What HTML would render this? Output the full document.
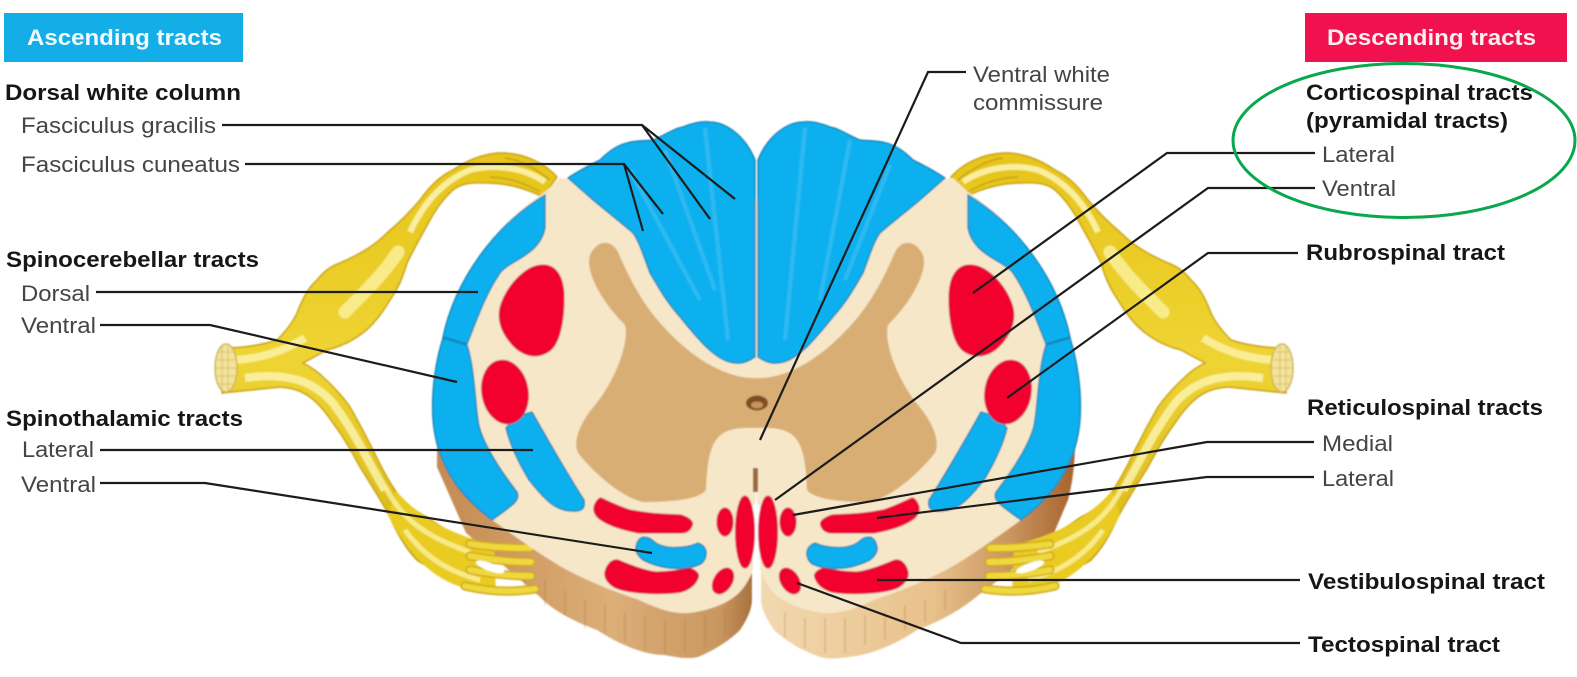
<!DOCTYPE html>
<html><head><meta charset="utf-8"><style>
html,body{margin:0;padding:0;background:#fff}
svg{display:block}
text{font-family:"Liberation Sans",Arial,sans-serif;font-size:22px;fill:#444}
.b{font-weight:bold;fill:#161616}
.w{font-weight:bold;fill:#f2fbff}
.l{fill:none;stroke:#1c1c1c;stroke-width:2.2}
</style></head><body>
<svg width="1577" height="677" viewBox="0 0 1577 677" xmlns="http://www.w3.org/2000/svg">
<defs>
<filter id="s" x="-5%" y="-5%" width="110%" height="110%"><feGaussianBlur stdDeviation="0.7"/></filter>
<filter id="t" x="-5%" y="-20%" width="110%" height="140%"><feGaussianBlur stdDeviation="0.35"/></filter>
<linearGradient id="brL" x1="0" x2="1" y1="0" y2="0"><stop offset="0" stop-color="#c48a52"/><stop offset=".55" stop-color="#dcae78"/><stop offset=".9" stop-color="#c99660"/><stop offset="1" stop-color="#a9713c"/></linearGradient>
<linearGradient id="brR" x1="0" x2="1" y1="0" y2="0"><stop offset="0" stop-color="#f2d9b0"/><stop offset=".55" stop-color="#e8c08a"/><stop offset=".8" stop-color="#c9935c"/><stop offset="1" stop-color="#a5622c"/></linearGradient>
<linearGradient id="yel" x1="0" x2="0" y1="0" y2="1"><stop offset="0" stop-color="#e6c41a"/><stop offset=".5" stop-color="#eed433"/><stop offset="1" stop-color="#d9b414"/></linearGradient>
<g id="nerve">
 <path d="M222,348 C245,348 262,345 277,340 C287,330 293,322 297,313 C303,298 308,288 317,280 C325,270 332,266 340,263 C358,255 373,247 387,233 C400,222 410,212 420,200 C430,186 440,176 453,170 C470,158 490,152 505,153 C525,154 545,163 557,177 L543,197 C525,188 505,183 487,183 C470,182 460,184 453,190 C443,199 436,209 430,220 C420,238 413,250 407,263 C402,280 397,290 390,300 C378,320 368,330 357,337 C345,345 335,348 327,350 L303,363 C313,368 319,373 323,377 C335,388 343,397 350,407 C358,421 366,436 373,450 C381,467 389,482 397,493 C407,505 416,512 427,517 C437,524 447,531 460,537 L468,565 C445,570 430,570 417,560 C405,548 397,533 390,517 C381,500 370,483 360,467 C351,450 342,435 333,423 C325,411 318,403 310,397 C300,390 292,388 280,387 L222,393 Z" fill="url(#yel)" stroke="#c9a214" stroke-width="1.5"/>
 <path d="M345,312 C365,292 385,272 398,252" fill="none" stroke="#fbf3a0" stroke-width="13" opacity=".8" stroke-linecap="round"/>
 <path d="M410,232 C425,200 445,180 470,170 C495,163 525,168 545,182" fill="none" stroke="#fdf6b4" stroke-width="6" opacity=".85"/>
 <path d="M505,158 C520,160 535,168 550,180 M490,177 C510,178 525,183 540,192" fill="none" stroke="#c9a214" stroke-width="1.5"/>
 <path d="M235,360 C265,358 285,350 305,338" fill="none" stroke="#fdf6b4" stroke-width="8" opacity=".75"/>
 <path d="M245,378 C285,372 312,380 332,402 C355,432 368,462 385,490" fill="none" stroke="#fdf6b4" stroke-width="8" opacity=".8"/>
 <ellipse cx="226" cy="368" rx="11" ry="24" fill="#f3e39c" stroke="#d2b652" stroke-width="1.5"/>
 <path d="M219,352 h13 M217,360 h18 M216,368 h20 M217,376 h18 M219,384 h13 M222,346 v44 M228,346 v44" stroke="#dcc674" stroke-width="1.2" fill="none"/>
 <path d="M396,491 C420,518 450,534 494,545 L496,591 C455,593 418,574 388,515 Z" fill="#e9cb24"/>
 <path d="M386,488 C400,515 420,535 470,552 M405,530 C425,558 450,572 480,580" fill="none" stroke="#fbf2a0" stroke-width="5" opacity=".8"/>
</g>
<g id="fan">
 <g fill="none" stroke-linecap="round">
 <path d="M470,544 C498,548 515,548 530,548 M470,556 C498,561 515,562 531,562 M470,570 C498,575 515,576 531,576 M465,586 C490,592 515,592 535,589" stroke="#cfa916" stroke-width="9"/>
 <path d="M470,544 C498,548 515,548 530,548 M470,556 C498,561 515,562 531,562 M470,570 C498,575 515,576 531,576 M465,586 C490,592 515,592 535,589" stroke="#efd83e" stroke-width="6"/>
 </g>
 <ellipse cx="490" cy="567" rx="15" ry="4" fill="#fff" transform="rotate(20 490 567)"/>
</g>
<g id="blue" fill="#0eb0ee" stroke="#147fb2" stroke-width="1.3">
 <path d="M568,178 C580,170 590,165 600,160 C610,150 618,145 627,143 C637,140 645,141 653,140 C665,135 675,128 683,127 C695,122 703,121 710,122 C725,122 745,135 755,160 L755,357 C748,362 742,364 735,363 C715,362 695,335 680,317 C665,300 657,285 650,273 C643,255 640,243 633,233 C620,222 605,210 593,200 Z"/>
 <path d="M545,195 C495,225 455,280 443,337 L467,344 C476,322 485,295 500,273 C510,260 540,255 545,228 Z"/>
 <path d="M443,338 L467,345 C474,365 475,400 478,420 C480,440 500,470 517,492 C520,500 516,503 492,520 C465,500 437,470 433,420 C431,390 436,360 443,338 Z"/>
 <path d="M532,412 C545,435 565,470 584,500 C586,510 580,512 570,511 C555,510 545,500 529,480 C520,465 510,445 506,428 C512,420 522,414 532,412 Z"/>
 <path d="M643,537 C650,537 652,540 656,543 C665,549 685,549 698,543 C704,545 707,550 706,555 C705,562 700,565 698,565 C690,569 678,569 668,568 C655,566 645,561 643,560 C638,556 635,552 636,547 C637,541 640,538 643,537 Z"/>
</g>
<g id="red" fill="#f2022f" stroke="#c2234a" stroke-width="1">
 <path d="M543,265 C558,265 564,280 564,298 C564,320 560,345 548,352 C535,360 520,355 510,342 C500,330 498,318 500,308 C505,288 525,265 543,265 Z"/>
 <ellipse cx="505" cy="392" rx="23" ry="32" transform="rotate(-10 505 392)"/>
 <path d="M601,498 C612,503 620,507 630,510 C650,514 665,514 681,515 C690,518 694,522 692,526 C690,531 686,533 681,533 L639,533 C622,530 610,526 601,520 C595,516 592,510 595,504 C597,500 599,498 601,498 Z"/>
 <path d="M618,560 C632,566 645,571 656,572 C668,572 680,570 689,568 C696,570 700,574 698,578 C695,586 688,590 681,592 C668,594 655,594 643,593 C630,592 620,590 614,587 C608,583 604,578 605,572 C607,564 612,559 618,560 Z"/>
 <ellipse cx="725" cy="522" rx="8" ry="14"/>
 <ellipse cx="745" cy="532" rx="9.5" ry="36"/>
 <ellipse cx="723" cy="581" rx="9" ry="14" transform="rotate(32 723 581)"/>
</g>
<g id="cream">
 <path d="M560,178 L545,192 C495,225 455,280 445,337 C435,390 438,445 452,480 L492,520 C520,540 545,558 567,570 C590,582 615,592 639,600 C660,610 675,614 689,613 C715,610 735,600 744,587 C750,578 753,572 753,567 L757,470 L757,200 Z" fill="#f6e7c9"/>
 <path d="M593,250 C600,240 612,240 618,252 C628,275 640,300 660,323 C680,345 700,362 725,372 C740,378 750,378 757,378 L757,428 C735,427 723,430 716,440 C708,452 707,470 706,490 C700,498 680,502 643,502 C625,498 600,480 578,453 C572,440 582,420 595,405 C612,385 630,345 625,325 C610,310 595,290 590,270 C588,260 589,255 593,250 Z" fill="#d9ae75"/>
</g>
</defs>
<g filter="url(#s)">
<path d="M437,420 L437,467 L466,533 L540,597 C555,612 575,622 597,630 C620,645 645,655 664,655 C680,658 690,659 698,657 C715,650 730,640 740,630 C748,618 752,608 752,600 L752,500 Z" fill="url(#brL)"/>
<path d="M1076,420 L1075,450 C1074,470 1072,485 1068,500 L1051,540 L976,597 C958,612 938,622 917,630 C895,645 870,655 849,657 C835,659 828,659 820,657 C800,650 785,640 774,630 C766,618 761,608 761,600 L761,500 Z" fill="url(#brR)"/>
<path d="M525,570v22M545,580v25M565,590v25M585,600v28M605,605v28M625,612v30M645,615v35M665,618v35M685,618v35M705,615v33M725,610v25M785,612v25M805,618v30M825,618v35M845,618v35M865,615v30M885,612v28M905,605v26M925,600v22M945,590v20" stroke="#a8753f" stroke-width="1.5" opacity=".3" fill="none"/>
<use href="#nerve"/>
<use href="#nerve" transform="translate(1508,0) scale(-1,1)"/>
<use href="#fan"/>
<use href="#fan" transform="translate(1520,0) scale(-1,1)"/>
<use href="#cream"/>
<use href="#cream" transform="translate(1513,0) scale(-1,1)"/>
<rect x="753" y="505" width="7" height="155" fill="#fff"/>
<rect x="753" y="468" width="5" height="24" fill="#9b6a3a"/>
<ellipse cx="757" cy="403" rx="11" ry="7.5" fill="#7f4d24"/>
<ellipse cx="757" cy="405" rx="6" ry="3.5" fill="#c7935a"/>
<use href="#blue"/>
<use href="#blue" transform="translate(1513,0) scale(-1,1)"/>
<path d="M630,170 L700,300M665,150 L715,290M705,128 L728,340M805,128 L785,340M850,140 L820,300M890,165 L845,280" stroke="#58c6f3" stroke-width="4" fill="none" opacity=".45"/>
<use href="#red"/>
<use href="#red" transform="translate(1513,0) scale(-1,1)"/>
</g>

<g filter="url(#t)">
<path class="l" d="M222,125H642L735,199M642,125L710,219"/>
<path class="l" d="M245,164H624L663,214M624,164L643,231"/>
<path class="l" d="M96,292H478"/>
<path class="l" d="M100,325H210L457,382"/>
<path class="l" d="M100,450H533"/>
<path class="l" d="M100,483H205L652,553"/>
<path class="l" d="M966,72H928L760,440"/>
<path class="l" d="M1315,153H1167L973,293"/>
<path class="l" d="M1315,188H1208L775,500"/>
<path class="l" d="M1298,253H1208L1007,398"/>
<path class="l" d="M1314,442H1207L793,515"/>
<path class="l" d="M1314,477H1207L877,518"/>
<path class="l" d="M1300,580H877"/>
<path class="l" d="M1300,643H961L797,583"/>
</g>

<rect x="4" y="13" width="239" height="49" fill="#13aee8"/>
<rect x="1305" y="13" width="262" height="49" fill="#f0114e"/>
<g filter="url(#t)">
<text x="27" y="45" class="w" textLength="195" lengthAdjust="spacingAndGlyphs">Ascending tracts</text>
<text x="1327" y="45" class="w" style="fill:#ffeef2" textLength="209" lengthAdjust="spacingAndGlyphs">Descending tracts</text>
<text x="5" y="100" class="b" textLength="236" lengthAdjust="spacingAndGlyphs">Dorsal white column</text>
<text x="21" y="133" textLength="195" lengthAdjust="spacingAndGlyphs">Fasciculus gracilis</text>
<text x="21" y="172" textLength="219" lengthAdjust="spacingAndGlyphs">Fasciculus cuneatus</text>
<text x="6" y="267" class="b" textLength="253" lengthAdjust="spacingAndGlyphs">Spinocerebellar tracts</text>
<text x="21" y="301" textLength="69" lengthAdjust="spacingAndGlyphs">Dorsal</text>
<text x="21" y="333" textLength="75" lengthAdjust="spacingAndGlyphs">Ventral</text>
<text x="6" y="426" class="b" textLength="237" lengthAdjust="spacingAndGlyphs">Spinothalamic tracts</text>
<text x="22" y="457" textLength="72" lengthAdjust="spacingAndGlyphs">Lateral</text>
<text x="21" y="492" textLength="75" lengthAdjust="spacingAndGlyphs">Ventral</text>
<text x="973" y="82" textLength="137" lengthAdjust="spacingAndGlyphs">Ventral white</text>
<text x="973" y="110" textLength="130" lengthAdjust="spacingAndGlyphs">commissure</text>
<text x="1306" y="100" class="b" textLength="227" lengthAdjust="spacingAndGlyphs">Corticospinal tracts</text>
<text x="1306" y="128" class="b" textLength="202" lengthAdjust="spacingAndGlyphs">(pyramidal tracts)</text>
<text x="1322" y="162" textLength="73" lengthAdjust="spacingAndGlyphs">Lateral</text>
<text x="1322" y="196" textLength="74" lengthAdjust="spacingAndGlyphs">Ventral</text>
<text x="1306" y="260" class="b" textLength="199" lengthAdjust="spacingAndGlyphs">Rubrospinal tract</text>
<text x="1307" y="415" class="b" textLength="236" lengthAdjust="spacingAndGlyphs">Reticulospinal tracts</text>
<text x="1322" y="451" textLength="71" lengthAdjust="spacingAndGlyphs">Medial</text>
<text x="1322" y="486" textLength="72" lengthAdjust="spacingAndGlyphs">Lateral</text>
<text x="1308" y="589" class="b" textLength="237" lengthAdjust="spacingAndGlyphs">Vestibulospinal tract</text>
<text x="1308" y="652" class="b" textLength="192" lengthAdjust="spacingAndGlyphs">Tectospinal tract</text>
</g>
<ellipse cx="1404" cy="140.5" rx="171" ry="77" fill="none" stroke="#0aa84c" stroke-width="3"/>
</svg>
</body></html>
